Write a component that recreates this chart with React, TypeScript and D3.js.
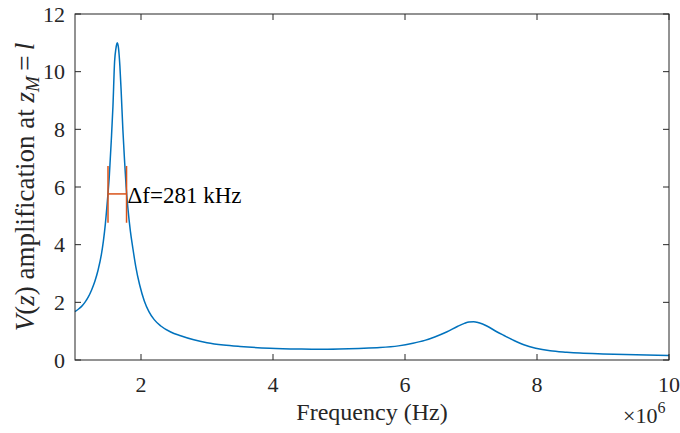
import React from "react";
import * as d3 from "d3";

// Frequency samples (MHz, axis scaled by 1e6) and amplification
const freqMHz = [
  1.0, 1.05, 1.1, 1.15, 1.2, 1.25, 1.3, 1.35, 1.4, 1.43, 1.46, 1.49, 1.52, 1.55,
  1.575, 1.6, 1.62, 1.64, 1.66, 1.68, 1.7, 1.725, 1.75, 1.775, 1.8, 1.84, 1.875,
  1.92, 1.98, 2.05, 2.12, 2.2, 2.3, 2.45, 2.6, 2.8, 3.0, 3.25, 3.5, 3.95, 4.4,
  4.7, 5.0, 5.3, 5.62, 5.9, 6.12, 6.3, 6.45, 6.63, 6.8, 6.9, 6.97, 7.04, 7.12, 7.24,
  7.39, 7.5, 7.64, 7.8, 7.98, 8.2, 8.45, 8.65, 9.0, 9.5, 10.0,
];
const amplification = [
  1.68, 1.76, 1.86, 2.0, 2.18, 2.42, 2.72, 3.12, 3.66, 4.12, 4.72, 5.5, 6.38, 7.62,
  8.8, 10.35, 10.8, 11.0, 10.8, 10.2, 9.3, 8.0, 6.95, 6.0, 5.3, 4.45, 3.9,
  3.25, 2.6, 2.05, 1.68, 1.4, 1.18, 0.97, 0.84, 0.7, 0.6, 0.52, 0.47, 0.41, 0.38,
  0.37, 0.38, 0.4, 0.43, 0.49, 0.58, 0.68, 0.8, 0.97, 1.17, 1.27, 1.32, 1.33, 1.29, 1.18,
  0.98, 0.85, 0.69, 0.53, 0.41, 0.32, 0.27, 0.24, 0.21, 0.18, 0.16,
];

// Bandwidth marker (half-power width)
const bandwidthFreqMHz = [1.5, 1.781];
const bandwidthLevel = [5.76];
const bandwidthBar = [4.76, 6.73];
const bandwidthLabel = ["Δf=281 kHz"];

const xTicks = [2, 4, 6, 8, 10];
const yTicks = [0, 2, 4, 6, 8, 10, 12];
const xDomain = [1, 10];
const yDomain = [0, 12];

const W = 680;
const H = 433;
const M = { left: 75, right: 669, top: 14, bottom: 360 };

const AXIS = "#262626";
const BLUE = "#0072BD";
const ORANGE = "#D95319";
const FONT = '"Liberation Serif"';

export default function App() {
  const x = d3.scaleLinear().domain(xDomain).range([M.left, M.right]);
  const y = d3.scaleLinear().domain(yDomain).range([M.bottom, M.top]);
  const pts: [number, number][] = freqMHz.map((f, i) => [f, amplification[i]]);
  const line = d3
    .line<[number, number]>()
    .x((d) => x(d[0]))
    .y((d) => y(d[1]))
    .curve(d3.curveMonotoneX);
  const tl = 6;
  const ts = { fontFamily: FONT };

  return (
    <svg width={W} height={H} style={{ position: "absolute", left: 0, top: 0, background: "#fff" }}>
      <rect x={0} y={0} width={W} height={H} fill="#fff" />
      {/* curve */}
      <path d={line(pts) || ""} fill="none" stroke={BLUE} strokeWidth={1.5} />

      {/* bandwidth marker */}
      <g stroke={ORANGE} strokeWidth={1.5}>
        <line
          x1={x(bandwidthFreqMHz[0])}
          x2={x(bandwidthFreqMHz[1])}
          y1={y(bandwidthLevel[0])}
          y2={y(bandwidthLevel[0])}
        />
        {bandwidthFreqMHz.map((f) => (
          <line key={f} x1={x(f)} x2={x(f)} y1={y(bandwidthBar[0])} y2={y(bandwidthBar[1])} />
        ))}
      </g>
      <text x={x(bandwidthFreqMHz[1]) + 1} y={y(bandwidthLevel[0]) + 9} fontSize={23} fill="#000" style={ts}>
        {bandwidthLabel[0]}
      </text>

      {/* box */}
      <rect
        x={M.left}
        y={M.top}
        width={M.right - M.left}
        height={M.bottom - M.top}
        fill="none"
        stroke={AXIS}
        strokeWidth={1}
      />
      {/* x ticks */}
      {xTicks.map((t) => (
        <g key={"x" + t}>
          <line x1={x(t)} x2={x(t)} y1={M.bottom} y2={M.bottom - tl} stroke={AXIS} />
          <line x1={x(t)} x2={x(t)} y1={M.top} y2={M.top + tl} stroke={AXIS} />
          <text x={x(t)} y={392} textAnchor="middle" fontSize={22} fill={AXIS} style={ts}>
            {String(t)}
          </text>
        </g>
      ))}
      {/* y ticks */}
      {yTicks.map((t) => (
        <g key={"y" + t}>
          <line x1={M.left} x2={M.left + tl} y1={y(t)} y2={y(t)} stroke={AXIS} />
          <line x1={M.right} x2={M.right - tl} y1={y(t)} y2={y(t)} stroke={AXIS} />
          <text x={65} y={y(t) + 7.5} textAnchor="end" fontSize={22} fill={AXIS} style={ts}>
            {String(t)}
          </text>
        </g>
      ))}

      {/* x label */}
      <text x={(M.left + M.right) / 2} y={420} textAnchor="middle" fontSize={24} fill={AXIS} style={ts}>
        Frequency (Hz)
      </text>
      <text x={623} y={423} fontSize={22} fill={AXIS} style={ts}>
        ×10
        <tspan dy={-10} fontSize={16}>
          6
        </tspan>
      </text>

      {/* y label */}
      <text
        transform={`translate(34,${(M.top + M.bottom) / 2}) rotate(-90)`}
        textAnchor="middle"
        fontSize={27}
        fill={AXIS}
        style={ts}
      >
        <tspan fontStyle="italic">V</tspan>
        <tspan>(</tspan>
        <tspan fontStyle="italic">z</tspan>
        <tspan>) amplification at </tspan>
        <tspan fontStyle="italic">z</tspan>
        <tspan fontStyle="italic" fontSize={19} dy={5}>
          M
        </tspan>
        <tspan dy={-5}>{"\u2009=\u2009"}</tspan>
        <tspan fontStyle="italic">l</tspan>
      </text>
    </svg>
  );
}
